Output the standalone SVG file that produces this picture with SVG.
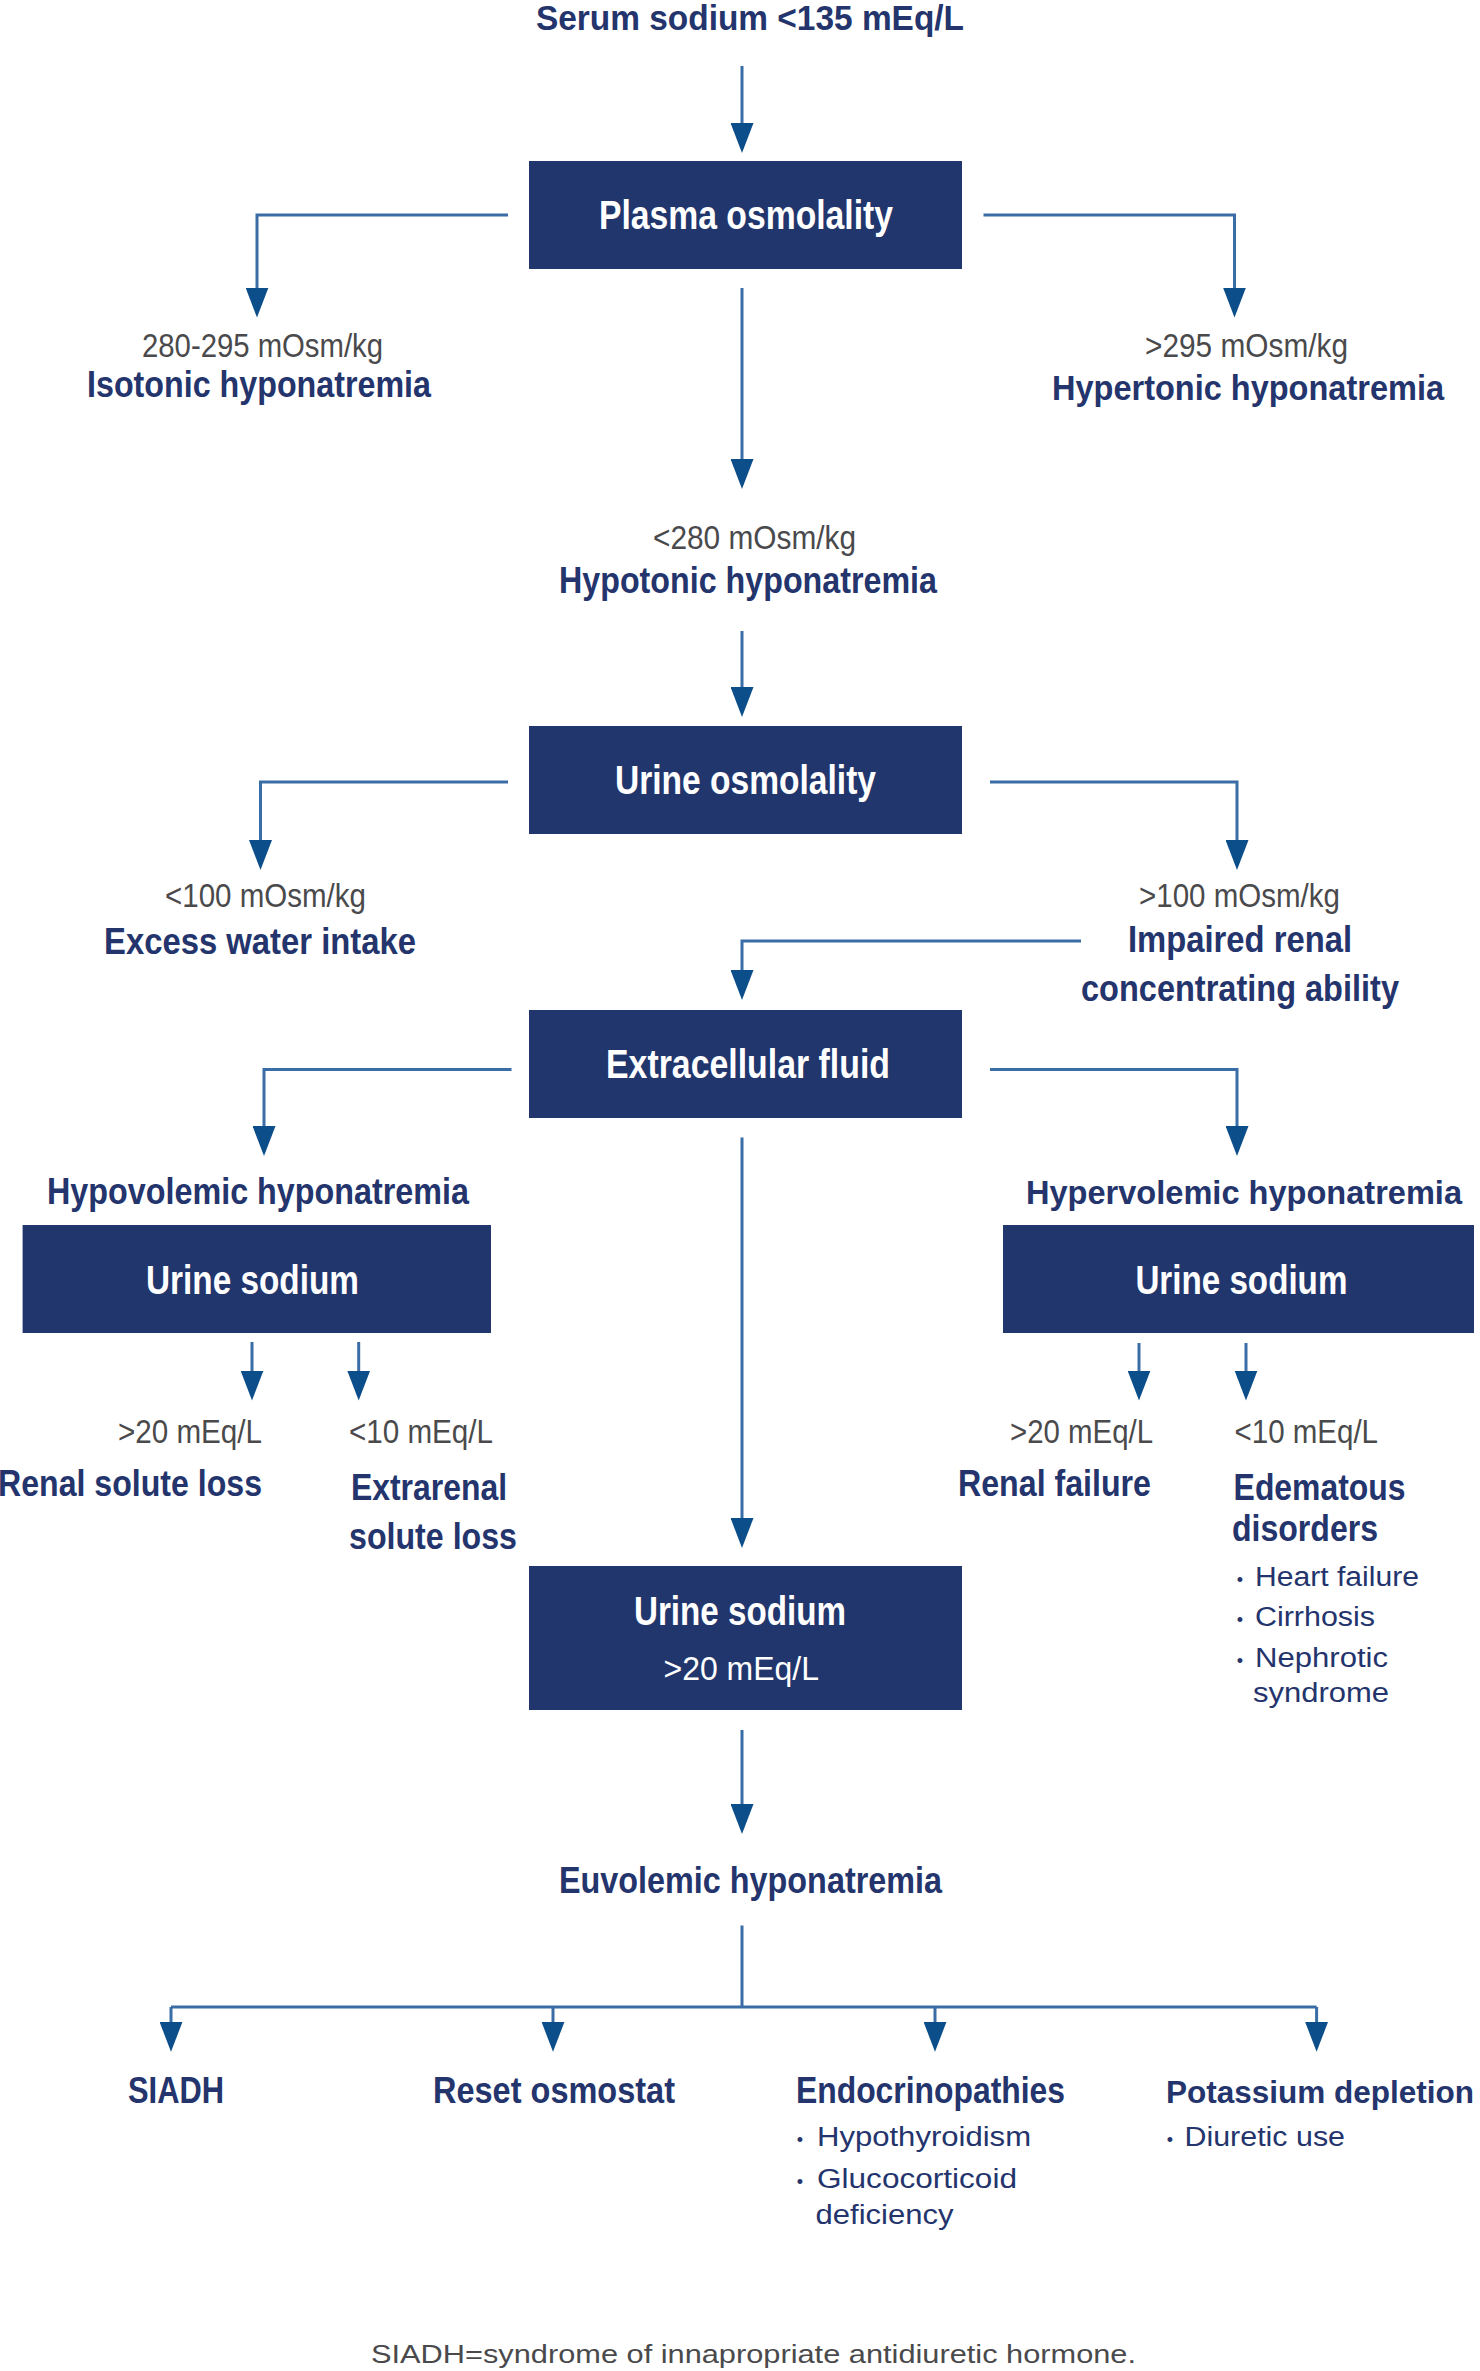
<svg xmlns="http://www.w3.org/2000/svg" width="1480" height="2371" viewBox="0 0 1480 2371">
<style>
text{font-family:"Liberation Sans",Arial,Helvetica,sans-serif}
.box{fill:#22366e}
.bw{font-weight:bold;font-size:40px;fill:#ffffff}
.ww{font-size:34px;fill:#ffffff}
.nl{font-weight:bold;font-size:37px;fill:#24346c}
.ti{font-weight:bold;font-size:35px;fill:#24346c}
.gl{font-size:33.5px;fill:#4a4a4c}
.bl{font-size:27px;fill:#24346c}
.bu{font-size:18px;fill:#24346c;text-anchor:middle}
.fn{font-size:26.5px;fill:#4a4a4c}
.c{fill:none;stroke:#3a6da5;stroke-width:3}
.ca{fill:none;stroke:#3a6da5;stroke-width:3;marker-end:url(#ah)}
</style>
<defs>
<marker id="ah" viewBox="0 0 30 23" refX="10" refY="11.5" markerWidth="30" markerHeight="23" markerUnits="userSpaceOnUse" orient="auto">
<path d="M0,0 L30,11.5 L0,23 Z" fill="#0b4e8a"/>
</marker>
</defs>
<rect width="1480" height="2371" fill="#ffffff"/>

<g id="connectors">
<path class="ca" d="M742,66 V133"/>
<path class="ca" d="M508,215 H257 V297.5"/>
<path class="ca" d="M983.5,215 H1234.5 V297.5"/>
<path class="ca" d="M742,288 V469"/>
<path class="ca" d="M742,631 V697"/>
<path class="ca" d="M508,782 H260.5 V850"/>
<path class="ca" d="M990,782 H1237 V850"/>
<path class="ca" d="M1081,941 H742 V980"/>
<path class="ca" d="M511.5,1069.5 H264 V1136"/>
<path class="ca" d="M990,1069.5 H1237 V1136"/>
<path class="ca" d="M742,1137.5 V1528"/>
<path class="ca" d="M252,1342 V1380.5"/>
<path class="ca" d="M358.7,1342 V1380.5"/>
<path class="ca" d="M1139,1343 V1380.5"/>
<path class="ca" d="M1246,1343 V1380.5"/>
<path class="ca" d="M742,1730 V1814"/>
<path class="c" d="M742,1925.5 V2007"/>
<path class="c" d="M171,2007 H1316.6"/>
<path class="ca" d="M171,2007 V2031.8"/>
<path class="ca" d="M553,2007 V2031.8"/>
<path class="ca" d="M935,2007 V2031.8"/>
<path class="ca" d="M1316.6,2007 V2031.8"/>
</g>

<g id="n-serum">
<text class="ti" x="536" y="29.5" textLength="428" lengthAdjust="spacingAndGlyphs">Serum sodium &lt;135 mEq/L</text>
</g>

<g id="n-plasma">
<rect class="box" x="529" y="161" width="433" height="108"/>
<text class="bw" x="599" y="228.5" textLength="294" lengthAdjust="spacingAndGlyphs">Plasma osmolality</text>
</g>

<g id="n-isotonic">
<text class="gl" x="142" y="356.7" textLength="241" lengthAdjust="spacingAndGlyphs">280-295 mOsm/kg</text>
<text class="nl" x="87" y="396.5" textLength="344" lengthAdjust="spacingAndGlyphs">Isotonic hyponatremia</text>
</g>

<g id="n-hypertonic">
<text class="gl" x="1145" y="356.5" textLength="203" lengthAdjust="spacingAndGlyphs">&gt;295 mOsm/kg</text>
<text class="nl" style="font-size:35px" x="1052" y="400" textLength="392" lengthAdjust="spacingAndGlyphs">Hypertonic hyponatremia</text>
</g>

<g id="n-hypotonic">
<text class="gl" x="653" y="549" textLength="203" lengthAdjust="spacingAndGlyphs">&lt;280 mOsm/kg</text>
<text class="nl" x="559" y="593" textLength="378" lengthAdjust="spacingAndGlyphs">Hypotonic hyponatremia</text>
</g>

<g id="n-urine-osm">
<rect class="box" x="529" y="726" width="433" height="108"/>
<text class="bw" x="615" y="794" textLength="261" lengthAdjust="spacingAndGlyphs">Urine osmolality</text>
</g>

<g id="n-excess">
<text class="gl" x="165" y="907" textLength="201" lengthAdjust="spacingAndGlyphs">&lt;100 mOsm/kg</text>
<text class="nl" x="104" y="953.6" textLength="312" lengthAdjust="spacingAndGlyphs">Excess water intake</text>
</g>

<g id="n-impaired">
<text class="gl" x="1139" y="907" textLength="201" lengthAdjust="spacingAndGlyphs">&gt;100 mOsm/kg</text>
<text class="nl" x="1128" y="952" textLength="224" lengthAdjust="spacingAndGlyphs">Impaired renal</text>
<text class="nl" x="1081" y="1000.5" textLength="318" lengthAdjust="spacingAndGlyphs">concentrating ability</text>
</g>

<g id="n-ecf">
<rect class="box" x="529" y="1010" width="433" height="108"/>
<text class="bw" x="606" y="1078" textLength="284" lengthAdjust="spacingAndGlyphs">Extracellular fluid</text>
</g>

<g id="n-hypovolemic">
<text class="nl" x="47" y="1203.6" textLength="422" lengthAdjust="spacingAndGlyphs">Hypovolemic hyponatremia</text>
<rect class="box" x="22.6" y="1225" width="468.4" height="108"/>
<text class="bw" x="146" y="1293.5" textLength="213" lengthAdjust="spacingAndGlyphs">Urine sodium</text>
</g>

<g id="n-hypervolemic">
<text class="nl" style="font-size:33.5px" x="1026" y="1203.6" textLength="436" lengthAdjust="spacingAndGlyphs">Hypervolemic hyponatremia</text>
<rect class="box" x="1003" y="1225" width="471" height="108"/>
<text class="bw" x="1135.4" y="1293.5" textLength="212" lengthAdjust="spacingAndGlyphs">Urine sodium</text>
</g>

<g id="n-renal-solute">
<text class="gl" x="118" y="1443" textLength="144" lengthAdjust="spacingAndGlyphs">&gt;20 mEq/L</text>
<text class="nl" x="-2" y="1496.4" textLength="264" lengthAdjust="spacingAndGlyphs">Renal solute loss</text>
</g>

<g id="n-extrarenal">
<text class="gl" x="349" y="1443" textLength="144" lengthAdjust="spacingAndGlyphs">&lt;10 mEq/L</text>
<text class="nl" x="351" y="1500" textLength="156" lengthAdjust="spacingAndGlyphs">Extrarenal</text>
<text class="nl" x="349" y="1548.5" textLength="168" lengthAdjust="spacingAndGlyphs">solute loss</text>
</g>

<g id="n-renal-failure">
<text class="gl" x="1010" y="1443" textLength="143" lengthAdjust="spacingAndGlyphs">&gt;20 mEq/L</text>
<text class="nl" x="958" y="1496.4" textLength="193" lengthAdjust="spacingAndGlyphs">Renal failure</text>
</g>

<g id="n-edematous">
<text class="gl" x="1234.5" y="1443" textLength="143.5" lengthAdjust="spacingAndGlyphs">&lt;10 mEq/L</text>
<text class="nl" x="1233.6" y="1500" textLength="172" lengthAdjust="spacingAndGlyphs">Edematous</text>
<text class="nl" x="1232" y="1540.5" textLength="146" lengthAdjust="spacingAndGlyphs">disorders</text>
<text class="bu" x="1240" y="1586">•</text>
<text class="bl" x="1255" y="1586" textLength="164" lengthAdjust="spacingAndGlyphs">Heart failure</text>
<text class="bu" x="1240" y="1626">•</text>
<text class="bl" x="1255" y="1626" textLength="120" lengthAdjust="spacingAndGlyphs">Cirrhosis</text>
<text class="bu" x="1240" y="1666.5">•</text>
<text class="bl" x="1255" y="1666.5" textLength="133" lengthAdjust="spacingAndGlyphs">Nephrotic</text>
<text class="bl" x="1253" y="1702" textLength="136" lengthAdjust="spacingAndGlyphs">syndrome</text>
</g>

<g id="n-urine-sodium-center">
<rect class="box" x="529" y="1566" width="433" height="144"/>
<text class="bw" x="634" y="1624.5" textLength="212" lengthAdjust="spacingAndGlyphs">Urine sodium</text>
<text class="ww" x="663.5" y="1680" textLength="155.5" lengthAdjust="spacingAndGlyphs">&gt;20 mEq/L</text>
</g>

<g id="n-euvolemic">
<text class="nl" x="559" y="1892.6" textLength="383" lengthAdjust="spacingAndGlyphs">Euvolemic hyponatremia</text>
</g>

<g id="n-siadh">
<text class="nl" x="128" y="2102.5" textLength="96" lengthAdjust="spacingAndGlyphs">SIADH</text>
</g>

<g id="n-reset">
<text class="nl" x="433" y="2102.5" textLength="242" lengthAdjust="spacingAndGlyphs">Reset osmostat</text>
</g>

<g id="n-endocrino">
<text class="nl" x="796" y="2102.5" textLength="269" lengthAdjust="spacingAndGlyphs">Endocrinopathies</text>
<text class="bu" x="800" y="2146">•</text>
<text class="bl" x="817" y="2146" textLength="214" lengthAdjust="spacingAndGlyphs">Hypothyroidism</text>
<text class="bu" x="800" y="2187.6">•</text>
<text class="bl" x="817" y="2187.6" textLength="200" lengthAdjust="spacingAndGlyphs">Glucocorticoid</text>
<text class="bl" x="815.5" y="2224" textLength="138" lengthAdjust="spacingAndGlyphs">deficiency</text>
</g>

<g id="n-potassium">
<text class="nl" style="font-size:31.5px" x="1166" y="2102.5" textLength="308" lengthAdjust="spacingAndGlyphs">Potassium depletion</text>
<text class="bu" x="1170" y="2146">•</text>
<text class="bl" x="1184.5" y="2146" textLength="160.5" lengthAdjust="spacingAndGlyphs">Diuretic use</text>
</g>

<g id="footnote">
<text class="fn" x="371" y="2363" textLength="765" lengthAdjust="spacingAndGlyphs">SIADH=syndrome of innapropriate antidiuretic hormone.</text>
</g>
</svg>
